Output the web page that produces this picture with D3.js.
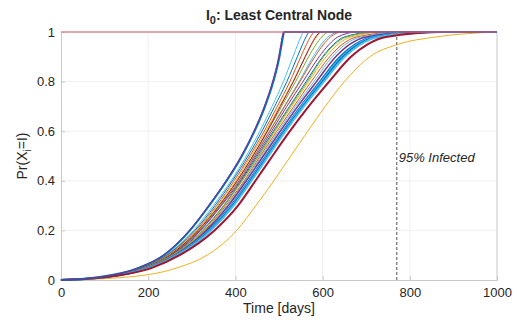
<!DOCTYPE html>
<html>
<head>
<meta charset="utf-8">
<script src="https://cdn.jsdelivr.net/npm/d3@7/dist/d3.min.js"></script>
<style>
  body { margin: 0; background: #fff; }
  svg text { font-family: "Liberation Sans", Arial, Helvetica, sans-serif; fill: #262626; }
</style>
</head>
<body>
<svg id="chart"></svg>
<script>
// probability levels; each curve lists the day it reaches each level
const levels = [0, 0.01, 0.05, 0.1, 0.2, 0.3, 0.4, 0.5, 0.6, 0.7, 0.8, 0.9, 0.95, 0.98, 1];

const c01 = [0, 80, 180, 236, 296, 340, 380, 415, 444, 468, 487, 501, 506, 509, 512];
const c02 = [0, 82, 184, 241, 304, 349, 390, 425, 456, 484, 510, 532, 543, 550, 556];
const c03 = [0, 83, 186, 243, 307, 353, 393, 429, 461, 490, 518, 542, 554, 562, 570];
const c04 = [0, 84, 188, 245, 310, 357, 397, 433, 466, 496, 525, 550, 563, 572, 582];
const c05 = [0, 85, 189, 247, 312, 359, 401, 436, 470, 501, 532, 560, 575, 586, 598];
const c06 = [0, 85, 190, 249, 314, 362, 404, 440, 474, 506, 538, 568, 585, 598, 615];
const c07 = [0, 86, 191, 249, 315, 363, 404, 440, 473, 503, 533, 560, 574, 584, 596];
const c08 = [0, 86, 192, 251, 318, 365, 408, 443, 478, 512, 546, 578, 597, 612, 640];
const c09 = [0, 86, 192, 251, 318, 366, 408, 444, 479, 513, 548, 582, 602, 618, 645];
const c10 = [0, 87, 193, 252, 320, 368, 411, 447, 483, 518, 555, 592, 615, 635, 680];
const c11 = [0, 87, 195, 254, 324, 373, 413, 450, 487, 524, 562, 600, 625, 650, 720];
const c12 = [0, 88, 196, 256, 327, 375, 416, 454, 491, 529, 568, 608, 635, 665, 750];
const c13 = [0, 88, 196, 256, 326, 374, 415, 453, 489, 526, 565, 602, 628, 655, 730];
const c14 = [0, 89, 198, 258, 330, 378, 420, 457, 495, 534, 574, 616, 645, 678, 780];
const c15 = [0, 90, 199, 260, 332, 381, 422, 460, 499, 538, 580, 622, 652, 688, 800];
const c16 = [0, 91, 201, 262, 334, 384, 425, 464, 503, 543, 586, 630, 662, 700, 820];
const c17 = [0, 92, 203, 264, 338, 390, 431, 470, 509, 550, 594, 640, 675, 715, 840];
const c18 = [0, 92, 204, 265, 340, 392, 433, 472, 511, 552, 597, 644, 679, 720, 850];
const c19 = [0, 93, 205, 267, 342, 394, 435, 474, 513, 555, 600, 647, 683, 724, 855];
const c20 = [0, 93, 206, 268, 344, 396, 437, 476, 515, 557, 603, 651, 687, 728, 860];
// rightmost thick curve and the slow yellow one
const c21 = [0, 95, 210, 272, 352, 406, 446, 485, 525, 568, 615, 665, 703, 745, 880];
const c22 = [0, 140, 268, 335, 403, 447, 488, 527, 566, 606, 650, 708, 772, 860, 1000];
// the seed node, infected from day 0
const seedDays = [0, 1000];
const seedProb = [1, 1];
const markerDay = 770;

const curves = [c02, c03, c04, c05, c06, c07, c08, c09, c10, c11, c12, c13, c14, c15, c16,
                c17, c18, c19, c20, c22, c21, c01];
const curveColors = ["#4DBEEE", "#0072BD", "#D95319", "#EDB120", "#77AC30", "#A2142F", "#4DBEEE",
                     "#D95319", "#7E2F8E", "#0072BD", "#EDB120", "#77AC30", "#D95319", "#4DBEEE",
                     "#7E2F8E", "#0072BD", "#4DBEEE", "#0072BD", "#4DBEEE", "#EDB120", "#A2142F", "#0072BD"];
const curveWidths = [1, 1, 1, 1, 1, 1, 1, 1, 1, 1, 1, 1, 1, 1, 1.5, 2, 2, 2, 2, 1, 2, 2];

const xTicks = [0, 200, 400, 600, 800, 1000];
const yTicks = [0, 0.2, 0.4, 0.6, 0.8, 1];

const W = 517, H = 320;
const margin = { left: 61, right: 20, top: 32, bottom: 40 };

const svg = d3.select("#chart").attr("width", W).attr("height", H);

const x = d3.scaleLinear().domain([0, 1000]).range([margin.left, W - margin.right]);
const y = d3.scaleLinear().domain([0, 1]).range([H - margin.bottom, margin.top]);

// grid
svg.append("g")
    .selectAll("line")
    .data(xTicks.slice(1, -1))
    .enter().append("line")
    .attr("x1", d => x(d)).attr("x2", d => x(d))
    .attr("y1", y(0)).attr("y2", y(1))
    .attr("stroke", "#ebebeb").attr("stroke-width", 0.8);
svg.append("g")
    .selectAll("line")
    .data(yTicks.slice(1, -1))
    .enter().append("line")
    .attr("x1", x(0)).attr("x2", x(1000))
    .attr("y1", d => y(d)).attr("y2", d => y(d))
    .attr("stroke", "#ebebeb").attr("stroke-width", 0.8);

// box axes
svg.append("g")
    .attr("transform", "translate(0," + y(0) + ")")
    .call(d3.axisBottom(x).tickValues(xTicks).tickSize(-4).tickPadding(8).tickFormat(d3.format("d")))
    .call(g => g.select(".domain").attr("stroke", "#c8c8c8"))
    .call(g => g.selectAll(".tick line").attr("stroke", "#c8c8c8"))
    .call(g => g.selectAll("text").style("font-size", "13px").attr("fill", "#262626"));
svg.append("g")
    .attr("transform", "translate(" + x(0) + ",0)")
    .call(d3.axisLeft(y).tickValues(yTicks).tickSize(-4).tickPadding(6)
        .tickFormat(d => d === 0 || d === 1 ? d3.format("d")(d) : d3.format(".1f")(d)))
    .call(g => g.select(".domain").attr("stroke", "#c8c8c8"))
    .call(g => g.selectAll(".tick line").attr("stroke", "#c8c8c8"))
    .call(g => g.selectAll("text").style("font-size", "13px").attr("fill", "#262626"));
svg.append("line")
    .attr("x1", x(1000)).attr("x2", x(1000)).attr("y1", y(0)).attr("y2", y(1))
    .attr("stroke", "#c8c8c8");
svg.append("line")
    .attr("x1", x(0)).attr("x2", x(1000)).attr("y1", y(1)).attr("y2", y(1))
    .attr("stroke", "#c8c8c8");

// curves
const line = d3.line()
    .x(d => x(d[0]))
    .y(d => y(d[1]))
    .curve(d3.curveMonotoneX);

function toPoints(times) {
    const pts = times.map((t, j) => [t, levels[j]]);
    if (times[times.length - 1] < 1000) pts.push([1000, 1]);
    return pts;
}

curves.forEach((times, i) => {
    svg.append("path")
        .attr("d", line(toPoints(times)))
        .attr("fill", "none")
        .attr("stroke", curveColors[i])
        .attr("stroke-width", curveWidths[i]);
});
// leftmost curve is doubled with purple
svg.append("path")
    .attr("d", line(toPoints(c01)))
    .attr("fill", "none")
    .attr("stroke", "#7E2F8E")
    .attr("stroke-width", 1)
    .attr("transform", "translate(-0.8,0)");

svg.append("path")
    .attr("d", line(seedDays.map((t, j) => [t, seedProb[j]])))
    .attr("fill", "none")
    .attr("stroke", "#e06a78")
    .attr("stroke-width", 1.2);

// 95% marker
svg.append("line")
    .attr("x1", x(markerDay)).attr("x2", x(markerDay))
    .attr("y1", y(0)).attr("y2", y(1))
    .attr("stroke", "#7a7a7a")
    .attr("stroke-width", 1.3)
    .attr("stroke-dasharray", "3,2");
svg.append("text")
    .attr("x", x(markerDay) + 2)
    .attr("y", 162)
    .style("font-size", "13px")
    .style("font-style", "italic")
    .attr("fill", "#000")
    .text("95% Infected");

// title
const title = svg.append("text")
    .attr("x", (x(0) + x(1000)) / 2)
    .attr("y", 20)
    .attr("text-anchor", "middle")
    .style("font-size", "14px")
    .style("font-weight", "bold")
    .attr("fill", "#000");
title.append("tspan").text("I");
title.append("tspan").attr("dy", 4).style("font-size", "11px").text("0");
title.append("tspan").attr("dy", -4).text(": Least Central Node");

// axis labels
svg.append("text")
    .attr("x", (x(0) + x(1000)) / 2)
    .attr("y", 313)
    .attr("text-anchor", "middle")
    .style("font-size", "14px")
    .text("Time [days]");

const yl = svg.append("text")
    .attr("transform", "translate(27," + ((y(0) + y(1)) / 2) + ") rotate(-90)")
    .attr("text-anchor", "middle")
    .style("font-size", "14px");
yl.append("tspan").text("Pr(X");
yl.append("tspan").attr("dy", 4).style("font-size", "10px").text("i");
yl.append("tspan").attr("dy", -4).text("=I)");
</script>
</body>
</html>
